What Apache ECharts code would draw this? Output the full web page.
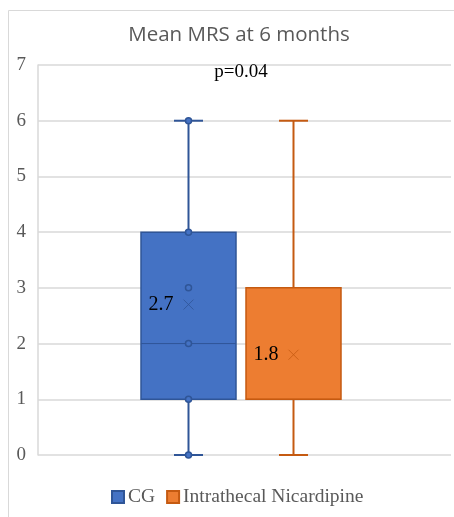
<!DOCTYPE html>
<html>
<head>
<meta charset="utf-8">
<script src="https://cdn.jsdelivr.net/npm/echarts@6/dist/echarts.min.js"></script>
<style>html,body{margin:0;padding:0;background:#fff}#c{width:454px;height:517px}</style>
</head>
<body>
<div id="c"></div>
<script>
const titleText = 'Mean MRS at 6 months';
const pValueText = 'p=0.04';
const categories = ['CG', 'Intrathecal Nicardipine'];
const minValues = [0, 0];
const q1Values = [1, 1];
const medianValues = [2, 1];
const q3Values = [4, 3];
const maxValues = [6, 6];
const meanValues = [2.7, 1.8];
const meanLabels = ['2.7', '1.8'];
const innerPoints = [[0, 1, 2, 3, 4, 6], []];
const yMin = 0, yMax = 7, yStep = 1;

const fills = ['#4472C4', '#ED7D31'];
const borders = ['#2F5597', '#C55A11'];

const chart = echarts.init(document.getElementById('c'));

function makeRender(i) {
  return function (params, api) {
    const c = api.coord([0, 0])[0];
    const bw = 95, gap = 10, shift = -3.5;
    const cx = c + shift + (i - 0.5) * (bw + gap);
    const y = v => api.coord([0, v])[1];
    const vMin = api.value(1), vQ1 = api.value(2), vMed = api.value(3), vQ3 = api.value(4), vMax = api.value(5), vMean = api.value(6);
    const col = borders[i];
    const children = [];
    children.push({type: 'line', shape: {x1: cx, y1: y(vQ3), x2: cx, y2: y(vMax)}, style: {stroke: col, lineWidth: 2}});
    children.push({type: 'line', shape: {x1: cx, y1: y(vQ1), x2: cx, y2: y(vMin)}, style: {stroke: col, lineWidth: 2}});
    children.push({type: 'line', shape: {x1: cx - 14.5, y1: y(vMax), x2: cx + 14.5, y2: y(vMax)}, style: {stroke: col, lineWidth: 2}});
    children.push({type: 'line', shape: {x1: cx - 14.5, y1: y(vMin), x2: cx + 14.5, y2: y(vMin)}, style: {stroke: col, lineWidth: 2}});
    children.push({type: 'rect', shape: {x: cx - bw / 2, y: y(vQ3), width: bw, height: y(vQ1) - y(vQ3)}, style: {fill: fills[i], stroke: col, lineWidth: 1.5}});
    children.push({type: 'line', shape: {x1: cx - bw / 2, y1: y(vMed), x2: cx + bw / 2, y2: y(vMed)}, style: {stroke: col, lineWidth: 1}});
    innerPoints[i].forEach(p => {
      children.push({type: 'circle', shape: {cx: cx, cy: y(p), r: 3}, style: {fill: fills[i], stroke: col, lineWidth: 1.5}});
    });
    const my = y(vMean), s = 5;
    children.push({type: 'line', shape: {x1: cx - s, y1: my - s, x2: cx + s, y2: my + s}, style: {stroke: col, lineWidth: 1, opacity: 0.8}});
    children.push({type: 'line', shape: {x1: cx - s, y1: my + s, x2: cx + s, y2: my - s}, style: {stroke: col, lineWidth: 1, opacity: 0.8}});
    children.push({type: 'text', x: cx - 15, y: my, style: {text: meanLabels[i], fill: '#000', font: '20px "Liberation Serif"', align: 'right', verticalAlign: 'middle'}});
    return {type: 'group', children: children};
  };
}

const series = categories.map((name, i) => ({
  type: 'custom',
  name: name,
  renderItem: makeRender(i),
  itemStyle: {color: fills[i], borderColor: borders[i], borderWidth: 1},
  encode: {x: 0, y: [1, 2, 3, 4, 5, 6]},
  data: [[0, minValues[i], q1Values[i], medianValues[i], q3Values[i], maxValues[i], meanValues[i]]]
}));

chart.setOption({
  animation: false,
  title: [
    {text: titleText, left: 234, top: 20, textAlign: 'center', textStyle: {fontFamily: 'Open Sans', fontSize: 20.5, fontWeight: 'normal', color: '#595959'}},
    {text: pValueText, left: 236, top: 58, textAlign: 'center', textStyle: {fontFamily: 'Liberation Serif', fontSize: 19, fontWeight: 'normal', color: '#000'}}
  ],
  graphic: [{type: 'rect', silent: true, z: -10, shape: {x: 8.5, y: 10.5, width: 500, height: 600}, style: {fill: 'none', stroke: '#D9D9D9', lineWidth: 1}}],
  legend: {
    data: categories,
    left: 106, top: 482,
    icon: 'rect', itemWidth: 12, itemHeight: 12, itemGap: 11,
    textStyle: {fontFamily: 'Liberation Serif', fontSize: 19.5, color: '#595959', padding: [0, 0, 0, -1]}
  },
  grid: {left: 38, right: 3, top: 65, bottom: 62, containLabel: false},
  xAxis: {type: 'category', data: [''], axisLine: {show: false}, axisTick: {show: false}, axisLabel: {show: false}, splitLine: {show: false}},
  yAxis: {
    type: 'value', min: yMin, max: yMax, interval: yStep,
    axisLine: {show: true, lineStyle: {color: '#D9D9D9', width: 1.5}},
    axisTick: {show: false},
    axisLabel: {fontFamily: 'Liberation Serif', fontSize: 19, color: '#595959', margin: 12},
    splitLine: {show: true, lineStyle: {color: '#D9D9D9', width: 1.5}}
  },
  series: series
});
</script>
</body>
</html>
